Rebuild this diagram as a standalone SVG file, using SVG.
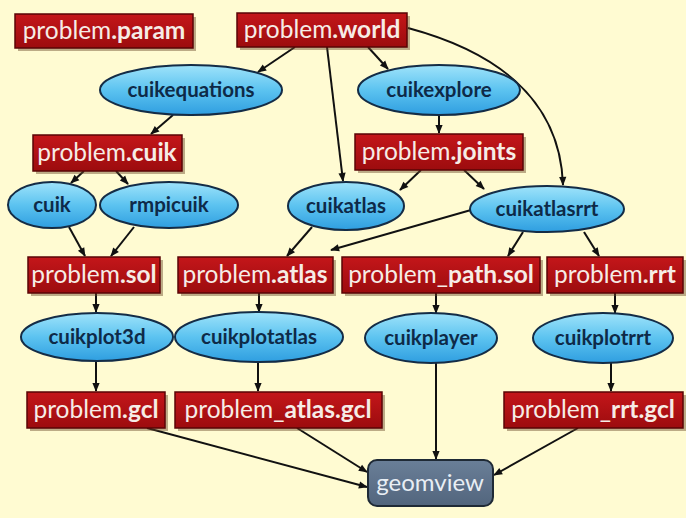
<svg xmlns="http://www.w3.org/2000/svg" width="686" height="518" viewBox="0 0 686 518">
<defs>
<linearGradient id="gRed" x1="0" y1="0" x2="0" y2="1">
<stop offset="0" stop-color="#c4161a"/><stop offset="1" stop-color="#9c0c0e"/>
</linearGradient>
<linearGradient id="gBlue" x1="0" y1="0" x2="0" y2="1">
<stop offset="0" stop-color="#9fe3fa"/><stop offset="0.5" stop-color="#5cc3f0"/><stop offset="1" stop-color="#2f9ee0"/>
</linearGradient>
<linearGradient id="gGrey" x1="0" y1="0" x2="0" y2="1">
<stop offset="0" stop-color="#6a7f98"/><stop offset="1" stop-color="#52657d"/>
</linearGradient>
<marker id="ah" viewBox="0 0 10 10" refX="9" refY="5" markerWidth="10" markerHeight="9" markerUnits="userSpaceOnUse" orient="auto">
<path d="M0,1 L10,5 L0,9 z" fill="#111"/>
</marker>
<style>
.box{fill:url(#gRed);stroke:#5a0406;stroke-width:1.5}
.sh{fill:#6b4a2a;opacity:0.45}
.ell{fill:url(#gBlue);stroke:#142c46;stroke-width:2}
.bt{font-family:Lato,"Open Sans","Liberation Sans",sans-serif;font-size:24.5px;fill:#f6ece6;text-anchor:middle}
.bt .b{font-weight:bold}
.et{font-family:Lato,"Open Sans","Liberation Sans",sans-serif;font-size:20.5px;font-weight:bold;fill:#0e2a48;text-anchor:middle}
.edge{fill:none;stroke:#111;stroke-width:2;marker-end:url(#ah)}
</style>
</defs>
<rect width="686" height="518" fill="#fffbd2"/>

<g id="edges">
<path class="edge" d="M295,47 L258,72"/>
<path class="edge" d="M368,47 L388,69"/>
<path class="edge" d="M327,47 L343,181"/>
<path class="edge" d="M408,28 C490,50 560,95 563,185"/>
<path class="edge" d="M173,115 L151,134"/>
<path class="edge" d="M439,115 L439,133"/>
<path class="edge" d="M84,171 L71,183"/>
<path class="edge" d="M116,171 L128,184"/>
<path class="edge" d="M421,170 L400,190"/>
<path class="edge" d="M464,170 L484,189"/>
<path class="edge" d="M69,227 L85,256"/>
<path class="edge" d="M134,227 L111,256"/>
<path class="edge" d="M312,227 L287,256"/>
<path class="edge" d="M471,210 L331,250"/>
<path class="edge" d="M523,232 L508,256"/>
<path class="edge" d="M584,232 L599,256"/>
<path class="edge" d="M96,293 L96,312"/>
<path class="edge" d="M259,293 L259,312"/>
<path class="edge" d="M436,293 L436,313"/>
<path class="edge" d="M615,293 L615,313"/>
<path class="edge" d="M96,361 L96,391"/>
<path class="edge" d="M258,362 L258,391"/>
<path class="edge" d="M611,363 L611,391"/>
<path class="edge" d="M147,428 L367,487"/>
<path class="edge" d="M297,428 L367,472"/>
<path class="edge" d="M436,363 L436,459"/>
<path class="edge" d="M578,428 L494,475"/>
</g>

<g id="problem_param"><rect class="sh" x="18" y="17" width="178" height="34"/><rect class="box" x="15" y="14" width="178" height="34"/><text class="bt" x="104" y="39">problem<tspan class="b">.param</tspan></text></g>
<g id="problem_world"><rect class="sh" x="240" y="16" width="170" height="34"/><rect class="box" x="237" y="13" width="170" height="34"/><text class="bt" x="322" y="38">problem<tspan class="b">.world</tspan></text></g>
<g id="cuikequations"><ellipse class="ell" cx="191" cy="90" rx="91" ry="25"/><text class="et" x="191" y="97">cuikequations</text></g>
<g id="cuikexplore"><ellipse class="ell" cx="439" cy="90" rx="81" ry="25"/><text class="et" x="439" y="97">cuikexplore</text></g>
<g id="problem_cuik"><rect class="sh" x="36" y="138" width="149" height="36"/><rect class="box" x="33" y="135" width="149" height="36"/><text class="bt" x="107" y="161">problem<tspan class="b">.cuik</tspan></text></g>
<g id="problem_joints"><rect class="sh" x="358" y="137" width="168" height="36"/><rect class="box" x="355" y="134" width="168" height="36"/><text class="bt" x="439" y="160">problem<tspan class="b">.joints</tspan></text></g>
<g id="cuik"><ellipse class="ell" cx="52" cy="205" rx="44" ry="23"/><text class="et" x="52" y="212">cuik</text></g>
<g id="rmpicuik"><ellipse class="ell" cx="169" cy="205" rx="69" ry="23"/><text class="et" x="169" y="212">rmpicuik</text></g>
<g id="cuikatlas"><ellipse class="ell" cx="346" cy="206" rx="58" ry="24"/><text class="et" x="346" y="213">cuikatlas</text></g>
<g id="cuikatlasrrt"><ellipse class="ell" cx="547" cy="209" rx="77" ry="23"/><text class="et" x="547" y="216">cuikatlasrrt</text></g>
<g id="problem_sol"><rect class="sh" x="31" y="260" width="132" height="36"/><rect class="box" x="28" y="257" width="132" height="36"/><text class="bt" x="94" y="283">problem<tspan class="b">.sol</tspan></text></g>
<g id="problem_atlas"><rect class="sh" x="181" y="260" width="155" height="36"/><rect class="box" x="178" y="257" width="155" height="36"/><text class="bt" x="255" y="283">problem<tspan class="b">.atlas</tspan></text></g>
<g id="problem_path_sol"><rect class="sh" x="345" y="260" width="198" height="36"/><rect class="box" x="342" y="257" width="198" height="36"/><text class="bt" x="441" y="283">problem_<tspan class="b">path.sol</tspan></text></g>
<g id="problem_rrt"><rect class="sh" x="550" y="260" width="136" height="36"/><rect class="box" x="547" y="257" width="136" height="36"/><text class="bt" x="615" y="283">problem<tspan class="b">.rrt</tspan></text></g>
<g id="cuikplot3d"><ellipse class="ell" cx="97" cy="337" rx="76" ry="24"/><text class="et" x="97" y="344">cuikplot3d</text></g>
<g id="cuikplotatlas"><ellipse class="ell" cx="259" cy="337" rx="84" ry="25"/><text class="et" x="259" y="344">cuikplotatlas</text></g>
<g id="cuikplayer"><ellipse class="ell" cx="431" cy="338" rx="66" ry="25"/><text class="et" x="431" y="345">cuikplayer</text></g>
<g id="cuikplotrrt"><ellipse class="ell" cx="603" cy="338" rx="70" ry="25"/><text class="et" x="603" y="345">cuikplotrrt</text></g>
<g id="problem_gcl"><rect class="sh" x="30" y="395" width="138" height="36"/><rect class="box" x="27" y="392" width="138" height="36"/><text class="bt" x="96" y="418">problem<tspan class="b">.gcl</tspan></text></g>
<g id="problem_atlas_gcl"><rect class="sh" x="178" y="395" width="207" height="36"/><rect class="box" x="175" y="392" width="207" height="36"/><text class="bt" x="278" y="418">problem_<tspan class="b">atlas.gcl</tspan></text></g>
<g id="problem_rrt_gcl"><rect class="sh" x="507" y="395" width="179" height="36"/><rect class="box" x="504" y="392" width="179" height="36"/><text class="bt" x="593" y="418">problem_<tspan class="b">rrt.gcl</tspan></text></g>
<g id="geomview"><rect x="368" y="460" width="125" height="46" rx="9" fill="url(#gGrey)" stroke="#1f2a36" stroke-width="2"/><text x="430" y="491" font-family="Lato,'Open Sans','Liberation Sans',sans-serif" font-size="24" fill="#e8eef4" text-anchor="middle">geomview</text></g>
</svg>
